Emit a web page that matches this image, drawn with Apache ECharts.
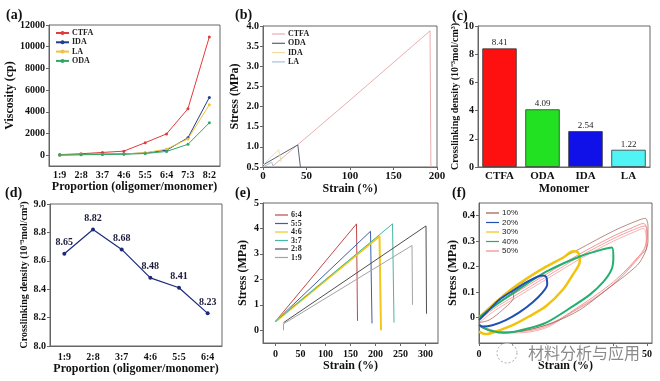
<!DOCTYPE html>
<html><head><meta charset="utf-8">
<script src="https://cdn.jsdelivr.net/npm/echarts@6/dist/echarts.min.js"></script>
<style>html,body{margin:0;padding:0;background:#fff}#c{width:660px;height:381px}</style>
</head><body><div id="c"></div>
<script>
// ---------- data ----------
const ratiosA = ['1:9','2:8','3:7','4:6','5:5','6:4','7:3','8:2'];
const viscTicks = [0,2000,4000,6000,8000,10000,12000];
const viscCTFA = [50,130,250,370,1150,1960,4280,10900];
const viscIDA = [20,60,100,120,200,460,1600,5320];
const viscLA = [20,50,90,110,220,560,1500,4650];
const viscODA = [10,40,60,80,150,340,1000,2980];

const tensCTFA = [[10,0.5],[100,2.16],[192,3.88],[193,0.5]];
const tensODA = [[0,0.55],[40,1.05],[43,0.5]];
const tensIDA = [[0,0.55],[18,0.93],[21,0.62]];
const tensLA = [[0,0.5],[10,0.62],[12,0.5]];

const monomers = ['CTFA','ODA','IDA','LA'];
const crossMonomer = [8.41,4.09,2.54,1.22];

const ratiosD = ['1:9','2:8','3:7','4:6','5:5','6:4'];
const crossRatio = [8.65,8.82,8.68,8.48,8.41,8.23];

const eTicks = [0,50,100,150,200,250,300];
const eStressTicks = [0,1,2,3,4,5];
const e64 = [[0,0.35],[162,4.18],[164,0.37]];
const e55 = [[0,0.35],[190,3.89],[193,0.27]];
const e46 = [[0,0.35],[208,3.69],[211,0.0]];
const e37 = [[0,0.35],[234,4.18],[237,0.3]];
const e28 = [[16,0.3],[301,4.1],[302,0.65]];
const e19 = [[16,0.0],[16,0.25],[273,3.33],[274,1.0]];

const fStressTicks = [0,0.1,0.2,0.3,0.4];
const fStrainTicks = [0,50];
const f10a = [[0,0.0],[10,0.11],[20,0.2],[30,0.27],[40,0.34],[47,0.38],[49.5,0.39],[50.3,0.36],[50.3,0.3],[48,0.22],[44,0.17],[38,0.11],[30,0.03],[22,-0.02],[14,-0.05],[6,-0.06],[1,-0.04],[0,-0.02]];
const f10b = [[0,0.0],[4,0.05],[8,0.09],[10,0.1],[10.3,0.08],[7,0.03],[3,-0.01],[0,-0.02]];
const f20 = [[0,-0.01],[3,0.03],[6,0.07],[10,0.105],[15,0.145],[19,0.165],[20,0.16],[20.3,0.13],[19,0.1],[16,0.06],[12,0.02],[8,-0.01],[4,-0.03],[1,-0.035],[0,-0.03]];
const f30 = [[0,0.0],[5,0.06],[10,0.115],[15,0.16],[20,0.2],[25,0.235],[28,0.26],[29.5,0.255],[30,0.22],[28,0.17],[25,0.11],[20,0.045],[15,0.005],[10,-0.03],[5,-0.055],[2,-0.065],[0,-0.055]];
const f40 = [[0,0.0],[5,0.05],[10,0.095],[20,0.18],[30,0.24],[36,0.265],[39.5,0.275],[40,0.24],[39.5,0.19],[37,0.14],[33,0.09],[28,0.045],[20,-0.02],[14,-0.045],[8,-0.06],[3,-0.05],[0,-0.03]];
const f50a = [[0,-0.01],[5,0.04],[10,0.08],[20,0.16],[30,0.24],[40,0.31],[46,0.345],[49.5,0.36],[50,0.33],[49.5,0.28],[47,0.23],[43,0.17],[39,0.12],[34,0.07],[29,0.03],[20,-0.035],[12,-0.055],[6,-0.055],[2,-0.04],[0,-0.03]];
const f50b = [[0,0.0],[5,0.05],[10,0.09],[20,0.17],[30,0.25],[40,0.32],[46,0.355],[49,0.37],[50,0.34],[49.8,0.27],[47.5,0.24],[44,0.19],[40,0.14],[35,0.09],[30,0.045],[22,-0.02],[14,-0.05],[7,-0.06],[2,-0.045],[0,-0.03]];
const f50c = [[0,-0.02],[5,0.03],[10,0.07],[20,0.15],[30,0.23],[40,0.3],[46,0.335],[49,0.35],[49.8,0.31],[49,0.26],[46,0.21],[42,0.155],[38,0.11],[33,0.065],[28,0.025],[20,-0.04],[12,-0.06],[6,-0.06],[2,-0.045],[0,-0.035]];

// ---------- style ----------
const serif = 'Liberation Serif';
const sans = 'Liberation Sans';
const axisCol = '#666';
const txt = '#111';

function grid(l,t,w,h){return {left:l,top:t,width:w,height:h,show:true,borderColor:axisCol,borderWidth:1,backgroundColor:'rgba(0,0,0,0)'};}
function axis(gi, type, extra){
  const a = {gridIndex:gi, type:type,
    axisLine:{show:true,onZero:false,lineStyle:{color:axisCol}},
    axisTick:{show:true,length:3,lineStyle:{color:axisCol}},
    splitLine:{show:false},
    axisLabel:{color:txt,fontFamily:serif,fontWeight:'bold',fontSize:10,margin:4},
    nameLocation:'middle',
    nameTextStyle:{color:txt,fontFamily:serif,fontWeight:'bold',fontSize:12}};
  for (const k in extra){
    if (typeof extra[k]==='object' && !Array.isArray(extra[k]) && a[k]) a[k]=Object.assign({},a[k],extra[k]);
    else a[k]=extra[k];
  }
  return a;
}
function legend(names,left,top,font,gap,lh,fmt,lineIcon){
  const l = {data:names,orient:'vertical',left:left,top:top,itemWidth:13,itemHeight:5,itemGap:gap,padding:0,
    selectedMode:false,formatter:fmt||'{name}',
    textStyle:{fontFamily:font,fontWeight:font===serif?'bold':'normal',fontSize:8,lineHeight:lh,color:'#222',padding:[0,0,0,-2]}};
  if (lineIcon){ l.icon='rect'; l.itemHeight=1.2; }
  return l;
}
function lineS(name,xi,data,color,w,extra){
  return Object.assign({name:name,type:'line',xAxisIndex:xi,yAxisIndex:xi,data:data,symbol:'none',
    lineStyle:{color:color,width:w},itemStyle:{color:color},animation:false,z:2},extra||{});
}
const crossName = 'Crosslinking density (10\u207B\u00B3mol/cm\u00B3)';

const option = {
  backgroundColor:'#fff',
  animation:false,
  grid:[grid(49,25,171,141),grid(263,26,174,141),grid(478,26,172,141),
        grid(50,204,172,142),grid(263,203,175,140),grid(479,203,173,140)],
  xAxis:[
    axis(0,'category',{data:ratiosA,boundaryGap:true,name:'Proportion (oligomer/monomer)',nameGap:14,axisTick:{show:false}}),
    axis(1,'value',{min:0,max:200,interval:50,name:'Strain (%)',nameGap:12,axisLabel:{fontSize:11}}),
    axis(2,'category',{data:monomers,boundaryGap:true,name:'Monomer',nameGap:15,axisTick:{show:false},axisLabel:{fontSize:11}}),
    axis(3,'category',{data:ratiosD,boundaryGap:true,name:'Proportion (oligomer/monomer)',nameGap:16,axisTick:{show:false},axisLabel:{margin:6}}),
    axis(4,'value',{min:-25,max:325,axisLabel:{customValues:eTicks,margin:6},axisTick:{customValues:eTicks},name:'Strain (%)',nameGap:16}),
    axis(5,'value',{min:0,max:51.5,axisLabel:{customValues:fStrainTicks,margin:6},axisTick:{customValues:[0,10,20,30,40,50]},name:'Strain (%)',nameGap:16})
  ],
  yAxis:[
    axis(0,'value',{min:-1000,max:12000,axisLabel:{customValues:viscTicks,formatter:v=>String(v)},axisTick:{customValues:viscTicks},name:'Viscosity (cp)',nameGap:30}),
    axis(1,'value',{min:0.5,max:4.0,interval:0.5,axisLabel:{formatter:v=>v.toFixed(1)},name:'Stress (MPa)',nameGap:22}),
    axis(2,'value',{min:0,max:10,interval:2,name:crossName,nameGap:14,nameTextStyle:{fontSize:10}}),
    axis(3,'value',{min:8.0,max:9.0,interval:0.2,axisLabel:{formatter:v=>v.toFixed(1)},name:crossName,nameGap:20,nameTextStyle:{fontSize:10}}),
    axis(4,'value',{min:-0.5,max:5,axisLabel:{customValues:eStressTicks},axisTick:{customValues:eStressTicks},name:'Stress (MPa)',nameGap:14}),
    axis(5,'value',{min:-0.1,max:0.45,axisLabel:{customValues:fStressTicks,formatter:v=>v===0?'0':v.toFixed(1)},axisTick:{customValues:fStressTicks},name:'Stress (MPa)',nameGap:20})
  ],
  legend:[
    legend(['CTFA','IDA','LA','ODA'],55,29,serif,1.3,8),
    legend(['b:CTFA','b:ODA','b:IDA','b:LA'],272,30,serif,1.3,8,n=>n.slice(2),true),
    legend(['6:4','5:5','4:6','3:7','2:8','1:9'],275,211,serif,0.5,7,null,true),
    legend(['10%','20%','30%','40%','50%'],486,209,sans,1.5,8,null,true)
  ],
  series:[
    lineS('CTFA',0,viscCTFA,'#e23a3c',1,{symbol:'circle',symbolSize:3}),
    lineS('IDA',0,viscIDA,'#233f8c',1,{symbol:'circle',symbolSize:3}),
    lineS('LA',0,viscLA,'#f3c13a',1,{symbol:'circle',symbolSize:3}),
    lineS('ODA',0,viscODA,'#2fa866',1,{symbol:'circle',symbolSize:3}),

    lineS('b:CTFA',1,tensCTFA,'#e8aeb0',1),
    lineS('b:ODA',1,tensODA,'#596274',1),
    lineS('b:IDA',1,tensIDA,'#f3dca0',1),
    lineS('b:LA',1,tensLA,'#a6c2d8',1),

    {name:'crossC',type:'bar',xAxisIndex:2,yAxisIndex:2,barWidth:'80%',animation:false,
      data:crossMonomer.map((v,i)=>({value:v,itemStyle:{color:['#ff1010','#22e022','#1010e8','#50f4f4'][i]}})),
      itemStyle:{borderColor:'#333',borderWidth:0.8},
      label:{show:true,position:'top',distance:1,fontFamily:serif,fontSize:9,color:'#222',formatter:p=>p.value.toFixed(2)}},

    lineS('crossD',3,crossRatio,'#1c2a7c',1.2,{symbol:'circle',symbolSize:4,
      label:{show:true,position:'top',distance:4,fontFamily:serif,fontWeight:'bold',fontSize:10,color:'#1a1a3a',formatter:p=>p.value.toFixed(2)}}),

    lineS('6:4',4,e64,'#c0474a',1),
    lineS('5:5',4,e55,'#3d5ea8',1),
    lineS('4:6',4,e46,'#f2c81e',2),
    lineS('3:7',4,e37,'#45b8a6',1),
    lineS('2:8',4,e28,'#4f4f4f',1),
    lineS('1:9',4,e19,'#a4a4a4',1),

    lineS('50%',5,f50a,'#f08a8a',0.8,{smooth:0.3}),
    lineS('50%',5,f50b,'#ee7c7c',0.8,{smooth:0.3}),
    lineS('50%',5,f50c,'#f29a9a',0.8,{smooth:0.3}),
    lineS('10%',5,f10a,'#9a5a4e',0.7,{smooth:0.3}),
    lineS('10%',5,f10b,'#9a5a4e',0.7,{smooth:0.3}),
    lineS('30%',5,f30,'#f3c20c',2.5,{smooth:0.3}),
    lineS('40%',5,f40,'#22b070',2,{smooth:0.3}),
    lineS('20%',5,f20,'#2150b0',2,{smooth:0.3})
  ],
  graphic:[
    {type:'text',left:6,top:8,style:{text:'(a)',font:'bold 14px "Liberation Serif"',fill:'#111'}},
    {type:'text',left:235,top:8,style:{text:'(b)',font:'bold 14px "Liberation Serif"',fill:'#111'}},
    {type:'text',left:452,top:9,style:{text:'(c)',font:'bold 14px "Liberation Serif"',fill:'#111'}},
    {type:'text',left:5,top:186,style:{text:'(d)',font:'bold 14px "Liberation Serif"',fill:'#111'}},
    {type:'text',left:235,top:186,style:{text:'(e)',font:'bold 14px "Liberation Serif"',fill:'#111'}},
    {type:'text',left:452,top:186,style:{text:'(f)',font:'bold 14px "Liberation Serif"',fill:'#111'}},
    {type:'circle',shape:{cx:507,cy:353,r:10},style:{fill:'rgba(255,255,255,0.6)',stroke:'#aaa',lineWidth:1,lineDash:[2,2]},z:100},
    {type:'text',left:527,top:344,style:{text:'材料分析与应用',font:'16px "Noto Sans CJK SC"',fill:'#8a8a8a',stroke:'#fff',lineWidth:2},z:100}
  ]
};
const chart = echarts.init(document.getElementById('c'),null,{renderer:'canvas',width:660,height:381});
chart.setOption(option);
</script>
</body></html>
